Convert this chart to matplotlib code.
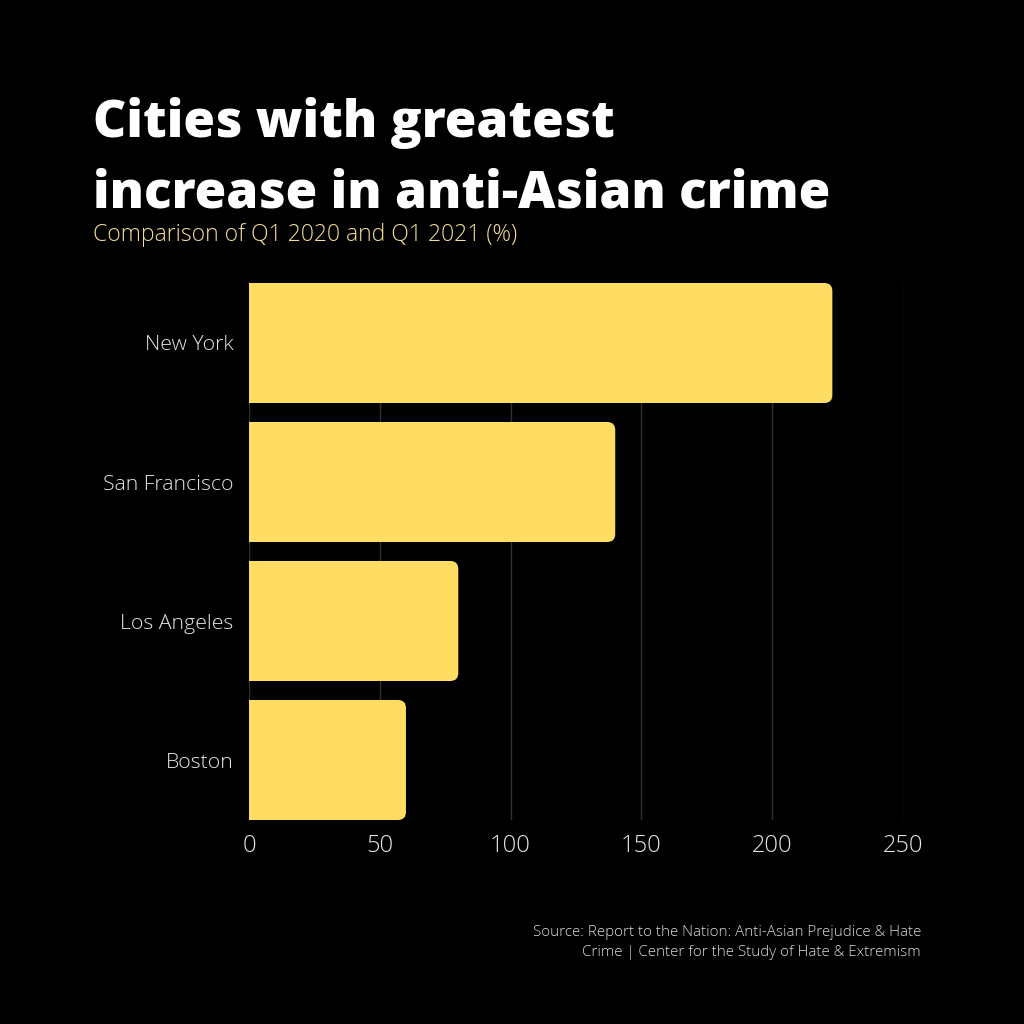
import matplotlib.pyplot as plt
from matplotlib.patches import FancyBboxPatch, Rectangle

# data
cities = ['New York', 'San Francisco', 'Los Angeles', 'Boston']
increase = [223, 140, 80, 60]
xticks = [0, 50, 100, 150, 200, 250]

bar_color = '#FEDD62'
bg = 'black'

plt.rcParams['font.family'] = ['Open Sans', 'DejaVu Sans']

fig = plt.figure(figsize=(10.24, 10.24), dpi=100, facecolor=bg)
ax = fig.add_axes([249/1024, 1 - 820/1024, 654/1024, 537/1024], facecolor=bg)

h = 120/139
bars = ax.barh(range(len(cities)), increase, height=h, color=bar_color, zorder=3)
ax.set_xlim(0, 250)
ax.set_ylim(len(cities) - 1 + h/2, -h/2)

# swap the plain bars for ones with rounded right corners
px_per_x = 654/250
px_per_y = 139
r_px = 8
for b in bars:
    x0, y0, w, hh = b.get_x(), b.get_y(), b.get_width(), b.get_height()
    b.set_visible(False)
    r = r_px / px_per_x
    rounded = FancyBboxPatch((x0, y0), w, hh,
                             boxstyle="round,pad=0,rounding_size=%f" % r,
                             mutation_aspect=px_per_x / px_per_y,
                             fc=bar_color, ec='none', zorder=3)
    ax.add_patch(rounded)
    ax.add_patch(Rectangle((x0, y0), w/2, hh, fc=bar_color, ec='none', zorder=3))

ax.set_xticks(xticks)
ax.set_yticks(range(len(cities)))
ax.set_yticklabels(cities)
ax.tick_params(axis='x', length=0, pad=10, labelsize=17, labelcolor='#E6E6E6')
ax.tick_params(axis='y', length=0, pad=11, labelsize=15.3, labelcolor='#E6E6E6')
for lab in ax.get_xticklabels() + ax.get_yticklabels():
    lab.set_fontweight('light')
ax.grid(axis='x', color='#303030', linewidth=1, zorder=0)
for s in ax.spines.values():
    s.set_visible(False)

fig.text(93/1024, 1 - 137/1024, 'Cities with greatest', color='white',
         fontsize=37, fontweight='heavy', ha='left', va='baseline')
fig.text(93/1024, 1 - 207/1024, 'increase in anti-Asian crime', color='white',
         fontsize=37, fontweight='heavy', ha='left', va='baseline')
fig.text(93/1024, 1 - 241/1024, 'Comparison of Q1 2020 and Q1 2021 (%)', color='#F3DE97',
         fontsize=16.5, fontweight='light', ha='left', va='baseline')
fig.text(921/1024, 1 - 956/1024,
         'Source: Report to the Nation: Anti-Asian Prejudice & Hate\n'
         'Crime | Center for the Study of Hate & Extremism',
         color='#DDDDDD', fontsize=10.9, fontweight='light', ha='right', va='baseline',
         multialignment='right', linespacing=1.45)

fig.savefig('out.png', dpi=100, facecolor=bg)
